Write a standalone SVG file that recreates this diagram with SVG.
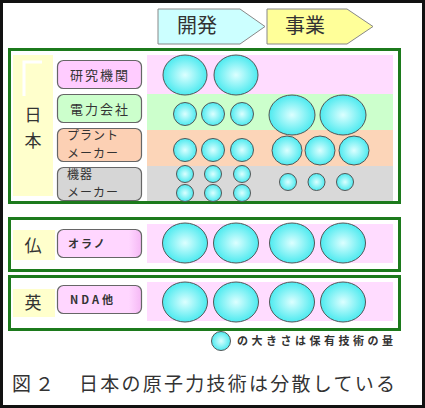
<svg xmlns="http://www.w3.org/2000/svg" width="425" height="408" viewBox="0 0 425 408">
<defs>
<radialGradient id="g" cx="50%" cy="50%" r="55%">
<stop offset="0" stop-color="#dcffff"/>
<stop offset="1" stop-color="#3fe8ee"/>
</radialGradient>
<linearGradient id="pk" x1="0" y1="0" x2="1" y2="0">
<stop offset="0.85" stop-color="#ffd6ff"/>
<stop offset="1" stop-color="#f5b8f5"/>
</linearGradient>
</defs>
<style>
.c{fill:url(#g);stroke:#555;stroke-width:1}
.grp{fill:#fff;stroke:#1c7a1c;stroke-width:3}
.lb{stroke:#666;stroke-width:1.2}
.t{font-family:"Noto Sans CJK JP","Noto Sans",sans-serif;fill:#333}
.yl{fill:#ffffcc}
</style>
<rect x="1.5" y="1.5" width="422" height="405" fill="#fff" stroke="#111" stroke-width="3"/>

<g id="arrow-dev">
<polygon points="158,9 240,9 265,26.5 240,44 158,44" fill="#ccffff" stroke="#888" stroke-width="1"/>
<text class="t" x="197" y="33" font-size="20" text-anchor="middle" fill="#222">開発</text>
</g>
<g id="arrow-biz">
<polygon points="267,9 347,9 373,26.5 347,44 267,44" fill="#ffff99" stroke="#888" stroke-width="1"/>
<text class="t" x="305" y="33" font-size="20" text-anchor="middle" fill="#222">事業</text>
</g>

<g id="japan">
<rect class="grp" x="9.5" y="49.5" width="390" height="153"/>
<rect class="yl" x="13" y="55" width="40" height="141"/>
<path d="M24,96 V62 H42" fill="none" stroke="#fff" stroke-width="3"/>
<text class="t" x="33" y="121" font-size="17" text-anchor="middle">日</text>
<text class="t" x="33" y="147" font-size="17" text-anchor="middle">本</text>
<rect x="147" y="55" width="246" height="39" fill="#ffdcff"/>
<rect x="147" y="94" width="246" height="36" fill="#ccffcc"/>
<rect x="147" y="130" width="246" height="36" fill="#fcd5b8"/>
<rect x="147" y="166" width="246" height="35" fill="#d9d9d9"/>
</g>

<g id="label-kenkyu">
<rect class="lb" x="57.5" y="60.5" width="84" height="28" rx="6" fill="#ffccff"/>
<text class="t" x="100" y="80" font-size="13" text-anchor="middle" letter-spacing="2">研究機関</text>
</g>
<g id="label-denryoku">
<rect class="lb" x="57.5" y="94.5" width="84" height="28" rx="6" fill="#ccffcc"/>
<text class="t" x="100" y="114" font-size="13" text-anchor="middle" letter-spacing="2">電力会社</text>
</g>
<g id="label-plant">
<rect class="lb" x="57.5" y="128.5" width="84" height="33" rx="6" fill="#fcd0b4"/>
<text class="t" x="67" y="140" font-size="12" letter-spacing="1">プラント</text>
<text class="t" x="67" y="158" font-size="12" letter-spacing="1">メーカー</text>
</g>
<g id="label-kiki">
<rect class="lb" x="57.5" y="167.5" width="84" height="33" rx="6" fill="#d6d6d6"/>
<text class="t" x="67" y="179" font-size="12" letter-spacing="1">機器</text>
<text class="t" x="67" y="197" font-size="12" letter-spacing="1">メーカー</text>
</g>

<g id="france">
<rect class="grp" x="9.5" y="218.5" width="390" height="52"/>
<rect class="yl" x="13" y="230" width="42" height="30"/>
<text class="t" x="33" y="252" font-size="17" text-anchor="middle">仏</text>
<rect x="147" y="224" width="246" height="39" fill="#ffdcff"/>
</g>
<g id="label-orano">
<rect class="lb" x="57.5" y="229.5" width="84" height="28" rx="6" fill="url(#pk)"/>
<text class="t" x="68" y="248" font-size="11" font-weight="bold" fill="#111" letter-spacing="2">オラノ</text>
</g>

<g id="uk">
<rect class="grp" x="9.5" y="276.5" width="390" height="53"/>
<rect class="yl" x="13" y="289" width="42" height="28"/>
<text class="t" x="33" y="309" font-size="17" text-anchor="middle">英</text>
<rect x="147" y="282" width="246" height="39" fill="#ffdcff"/>
</g>
<g id="label-nda">
<rect class="lb" x="57.5" y="285.5" width="84" height="28" rx="6" fill="url(#pk)"/>
<text class="t" x="70" y="304" font-size="11" font-weight="bold" fill="#111" letter-spacing="3">NDA他</text>
</g>

<g id="circles">
<ellipse class="c" cx="185" cy="75" rx="22" ry="20"/>
<ellipse class="c" cx="236" cy="75" rx="22" ry="20"/>

<circle class="c" cx="185" cy="114" r="11.5"/>
<circle class="c" cx="213" cy="114" r="11.5"/>
<circle class="c" cx="242" cy="114" r="11.5"/>
<ellipse class="c" cx="292" cy="115" rx="23" ry="20"/>
<ellipse class="c" cx="343" cy="115" rx="23" ry="20"/>

<circle class="c" cx="185" cy="150" r="11.5"/>
<circle class="c" cx="213" cy="150" r="11.5"/>
<circle class="c" cx="242" cy="150" r="11.5"/>
<ellipse class="c" cx="287" cy="150.5" rx="15" ry="14.5"/>
<ellipse class="c" cx="320" cy="150.5" rx="15" ry="14.5"/>
<ellipse class="c" cx="354" cy="150.5" rx="15" ry="14.5"/>

<circle class="c" cx="185" cy="174" r="8.5"/>
<circle class="c" cx="213" cy="174" r="8.5"/>
<circle class="c" cx="242" cy="174" r="8.5"/>
<circle class="c" cx="185" cy="193" r="8.5"/>
<circle class="c" cx="213" cy="193" r="8.5"/>
<circle class="c" cx="242" cy="193" r="8.5"/>
<circle class="c" cx="288" cy="182" r="8.5"/>
<circle class="c" cx="316.5" cy="182" r="8.5"/>
<circle class="c" cx="345" cy="182" r="8.5"/>

<ellipse class="c" cx="185" cy="243" rx="22.5" ry="20"/>
<ellipse class="c" cx="236" cy="243" rx="22.5" ry="20"/>
<ellipse class="c" cx="292" cy="243" rx="22.5" ry="20"/>
<ellipse class="c" cx="343" cy="243" rx="22.5" ry="20"/>

<ellipse class="c" cx="185" cy="302" rx="22.5" ry="20"/>
<ellipse class="c" cx="236" cy="302" rx="22.5" ry="20"/>
<ellipse class="c" cx="292" cy="302" rx="22.5" ry="20"/>
<ellipse class="c" cx="343" cy="302" rx="22.5" ry="20"/>
</g>

<g id="legend">
<circle class="c" cx="221" cy="341" r="9.5"/>
<text class="t" x="237" y="345" font-size="11" font-weight="bold" fill="#111" textLength="156">の大きさは保有技術の量</text>
</g>

<text class="t" x="12" y="391" font-size="19" fill="#222" letter-spacing="4">図２</text>
<text class="t" x="79" y="391" font-size="19" fill="#222" textLength="316">日本の原子力技術は分散している</text>
</svg>
